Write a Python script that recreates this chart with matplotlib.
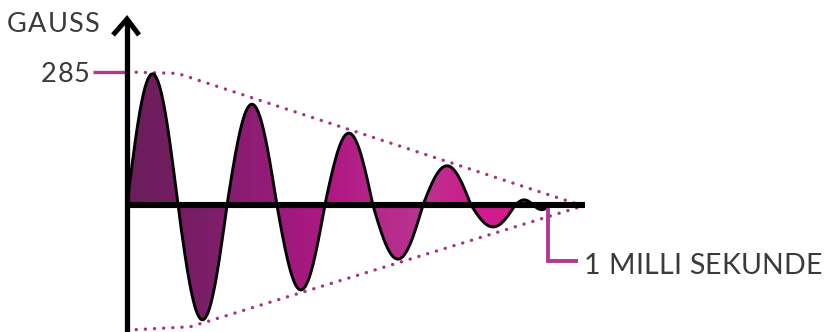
import numpy as np
import matplotlib
matplotlib.use("Agg")
import matplotlib.pyplot as plt
from matplotlib.colors import LinearSegmentedColormap
from matplotlib.patches import Polygon
from matplotlib import font_manager, ft2font
from matplotlib.transforms import IdentityTransform

# ---------------- data ----------------
# zero crossings of the damped oscillation (milliseconds)
zero_crossings_ms = [0.0, 0.121, 0.2375, 0.356, 0.470, 0.584, 0.703, 0.817, 0.922, 0.965, 1.005]
# amplitude of each half-wave lobe (Gauss), alternating sign starting positive
lobe_amplitudes_g = [281, 246, 216, 182, 154, 116, 84, 47, 11, 10]
# dotted envelope
env_upper_t = [0.0, 0.12, 1.076]
env_upper_g = [285, 282, 0]
env_lower_t = [0.0, 0.15, 1.076]
env_lower_g = [-268, -261, -4]
peak_label = 285
peak_label_text = "285"
y_label = "GAUSS"
time_mark_ms = 1.0
time_label = "1 MILLI SEKUNDE"

# ---------------- layout ----------------
W, H = 825, 332
DPI = 100
fig = plt.figure(figsize=(W / DPI, H / DPI), dpi=DPI)
ax = fig.add_axes([0, 0, 1, 1])
ax.set_axis_off()

px_per_ms = 421.0
g_per_px = 285.0 / 133.0
x0_px, y0_px = 127, 205  # origin position in pixels (from top-left)
xmin = -x0_px / px_per_ms
xmax = (W - x0_px) / px_per_ms
ymin = -(H - y0_px) * g_per_px
ymax = y0_px * g_per_px
ax.set_xlim(xmin, xmax)
ax.set_ylim(ymin, ymax)

def px2x(px):
    return (px - x0_px) / px_per_ms

def py2y(py):
    return (y0_px - py) * g_per_px

# build wave
t_all, y_all = [], []
for i, a in enumerate(lobe_amplitudes_g):
    t0, t1 = zero_crossings_ms[i], zero_crossings_ms[i + 1]
    t = np.linspace(t0, t1, 80)
    s = 1 if i % 2 == 0 else -1
    y = s * a * np.sin(np.pi * (t - t0) / (t1 - t0))
    t_all.append(t)
    y_all.append(y)
t_all = np.concatenate(t_all)
y_all = np.concatenate(y_all)

# gradient fill
cmap = LinearSegmentedColormap.from_list("grad", [
    (0.00, "#6a1d5a"),
    (0.16, "#781e66"),
    (0.27, "#891d72"),
    (0.38, "#9f1a7d"),
    (0.49, "#b01883"),
    (0.60, "#b6298c"),
    (0.70, "#b8348f"),
    (0.81, "#cf1b8d"),
    (1.00, "#d81a8f"),
])
grad = np.linspace(0, 1, 400).reshape(1, -1)
im = ax.imshow(grad, cmap=cmap, aspect="auto",
               extent=[0.0, zero_crossings_ms[-1], ymin, ymax], zorder=1, interpolation="bilinear")
poly = Polygon(np.column_stack([t_all, y_all]), closed=True, facecolor="none", edgecolor="none")
ax.add_patch(poly)
im.set_clip_path(poly)

# outline
ax.plot(t_all, y_all, color="black", lw=2.1, zorder=3, solid_capstyle="round")

# envelope dotted
dot_color = "#a33583"
for tt, gg in [(env_upper_t, env_upper_g), (env_lower_t, env_lower_g)]:
    ax.plot(tt, gg, color=dot_color, lw=2.4, linestyle=(0, (0.05, 2.7)),
            dash_capstyle="round", zorder=2)

# axes
ax.plot([0, 0], [ymin, py2y(20)], color="black", lw=3.8, zorder=5, solid_capstyle="butt")
ax.plot([px2x(113), 0, px2x(139)], [py2y(35), py2y(19), py2y(35)], color="black", lw=3.6,
        zorder=5, solid_joinstyle="miter", solid_capstyle="butt")
ax.plot([0, px2x(585)], [0, 0], color="black", lw=4.4, zorder=5, solid_capstyle="butt")

# 285 mark
mag = "#b03a93"
ax.plot([px2x(93), 0], [peak_label, peak_label], color=mag, lw=2.4, zorder=4, solid_capstyle="butt")
# time mark bracket
ax.plot([time_mark_ms, time_mark_ms, px2x(578)], [py2y(207), py2y(261), py2y(261)],
        color=mag, lw=2.8, zorder=4, solid_joinstyle="miter", solid_capstyle="butt")

# letter-spaced text
txt_color = "#3a3a3a"
fpath = font_manager.findfont(font_manager.FontProperties(family="Lato"))

def spaced_text(s, x_px, base_py, size, width_px, ha="left"):
    f = ft2font.FT2Font(fpath)
    f.set_size(size, DPI)
    adv = [f.load_char(ord(c)).linearHoriAdvance / 65536.0 for c in s]
    nat = sum(adv)
    spacing = (width_px - nat) / (len(s) - 1)
    total = nat + spacing * (len(s) - 1)
    x = x_px if ha == "left" else x_px - total
    for c, a in zip(s, adv):
        fig.text(x, H - base_py, c, transform=IdentityTransform(), fontsize=size,
                 color=txt_color, family="Lato", ha="left", va="baseline")
        x += a + spacing

spaced_text(y_label, 7, 32, 19.5, 92)
spaced_text(peak_label_text, 89, 82, 19.5, 48, ha="right")
spaced_text(time_label, 584, 274, 20.5, 238)

fig.savefig("out.png", dpi=DPI)
